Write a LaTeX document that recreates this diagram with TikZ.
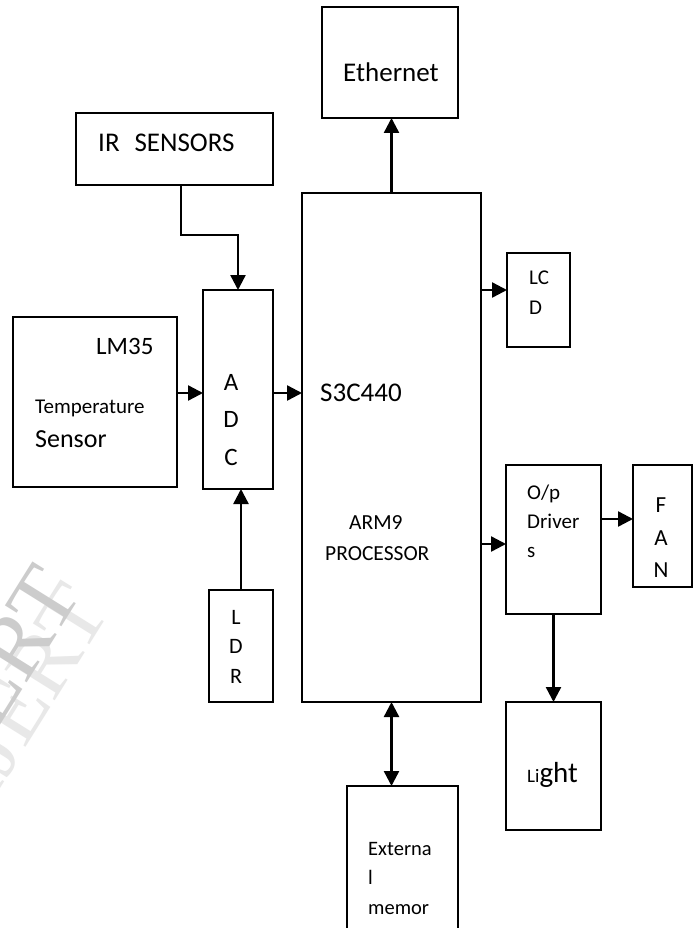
\documentclass[tikz,border=0pt]{standalone}
\usepackage{fontspec}
\setmainfont{Carlito}
\newfontfamily\wmfont{Liberation Serif}
\usetikzlibrary{arrows.meta,fit}
\tikzset{
  box/.style={draw, line width=1.8pt, inner sep=0pt, outer sep=0pt},
  arr/.style={line width=2.4pt, -{Triangle[length=15pt,width=15pt]}},
  darr/.style={line width=2.4pt, {Triangle[length=15pt,width=15pt]}-{Triangle[length=15pt,width=15pt]}},
  big/.style={inner sep=0pt, anchor=base west, font=\fontsize{25}{30}\selectfont},
  bigger/.style={inner sep=0pt, anchor=base west, font=\fontsize{27}{32}\selectfont},
  mid/.style={inner sep=0pt, anchor=base west, font=\fontsize{21}{25}\selectfont},
  bigc/.style={inner sep=0pt, anchor=base, font=\fontsize{25}{30}\selectfont},
  midc/.style={inner sep=0pt, anchor=base, font=\fontsize{22}{26}\selectfont},
  wm/.style={inner sep=0pt, anchor=base east, rotate=58, font=\wmfont\fontsize{90}{90}\selectfont},
}
\begin{document}
\begin{tikzpicture}[x=1pt,y=-1pt]
\path[use as bounding box] (0,0) rectangle (697,928);
\clip (0,0) rectangle (697,928);
\fill[white] (0,0) rectangle (697,928);
% watermark
\node[wm, text=black!9] (wm2) at (112,610) {IJERT};
\node[wm, text=black!20] (wm1) at (84,592) {IJERT};
% boxes
\node[box, fit={(322,7) (458,118)}] (eth) {};
\node[box, fit={(76,113) (273,185)}] (ir) {};
\node[box, fit={(302,193) (481,702)}] (proc) {};
\node[box, fit={(203,290) (273,489)}] (adc) {};
\node[box, fit={(13,317) (177,487)}] (lm) {};
\node[box, fit={(507,253) (570,347)}] (lcd) {};
\node[box, fit={(506,465) (601,614)}] (drv) {};
\node[box, fit={(633,465) (692,587)}] (fan) {};
\node[box, fit={(209,590) (273,702)}] (ldr) {};
\node[box, fit={(506,702) (601,830)}] (light) {};
\node[box, fit={(347,786) (458,945)}] (mem) {};
% texts
\node[bigger] (tEth) at (343,82) {Ethernet};
\node[bigger] (tIR) at (98,152) {IR\hspace{0.55em}SENSORS};
\node[big] (tLM) at (96,354) {LM35};
\node[mid] (tTemp) at (35,413) {Temperature};
\node[big, font=\fontsize{26}{30}\selectfont] (tSens) at (35,447) {Sensor};
\node[bigc] (tA) at (231,390) {A};
\node[bigc] (tD) at (231,427) {D};
\node[bigc] (tC) at (231,465) {C};
\node[bigger] (tS3) at (320,401) {S3C440};
\node[mid, font=\fontsize{21.5}{25}\selectfont] (tARM) at (349,529) {ARM9};
\node[mid, font=\fontsize{21.5}{25}\selectfont] (tPROC) at (325,560) {PROCESSOR};
\node[mid] (tLC) at (529,284) {LC};
\node[mid] (tLCD) at (529,314) {D};
\node[mid] (tOp) at (527,499) {O/p};
\node[mid] (tDrv) at (527,528) {Driver};
\node[mid] (tDs) at (527,557) {s};
\node[midc, font=\fontsize{23}{27}\selectfont] (tF) at (661,512) {F};
\node[midc, font=\fontsize{23}{27}\selectfont] (tFA) at (661,545) {A};
\node[midc, font=\fontsize{23}{27}\selectfont] (tN) at (661,577) {N};
\node[midc] (tL) at (236,624) {L};
\node[midc] (tLD) at (236,653) {D};
\node[midc] (tR) at (236,683) {R};
\node[inner sep=0pt, anchor=base west] (tLight) at (527,782) {\fontsize{19}{22}\selectfont Li\fontsize{29}{33}\selectfont ght};
\node[mid, font=\fontsize{20.5}{24}\selectfont] (tExt) at (368,855) {Externa};
\node[mid, font=\fontsize{20.5}{24}\selectfont] (tExl) at (368,884) {l};
\node[mid, font=\fontsize{20.5}{24}\selectfont] (tMem) at (368,914) {memor};
% helper coordinates
\coordinate (irx) at (181,0);
\coordinate (irbend) at (181,235);
\coordinate (ya) at (0,393);
\coordinate (ylcd) at (0,290);
\coordinate (ydrv) at (0,544);
\coordinate (yfan) at (0,519);
% connectors
\draw[arr] (proc.north) -- (proc.north |- eth.south);
\draw[arr] (ir.south -| irx) -- (irbend) -| (adc.north);
\draw[arr] (lm.east |- ya) -- (adc.west |- ya);
\draw[arr] (adc.east |- ya) -- (proc.west |- ya);
\draw[arr] (ldr.north) -- (ldr.north |- adc.south);
\draw[arr] (proc.east |- ylcd) -- (lcd.west |- ylcd);
\draw[arr] (proc.east |- ydrv) -- (drv.west |- ydrv);
\draw[arr] (drv.east |- yfan) -- (fan.west |- yfan);
\draw[arr] (drv.south) -- (light.north);
\draw[darr] (proc.south) -- (proc.south |- mem.north);
\end{tikzpicture}
\end{document}
